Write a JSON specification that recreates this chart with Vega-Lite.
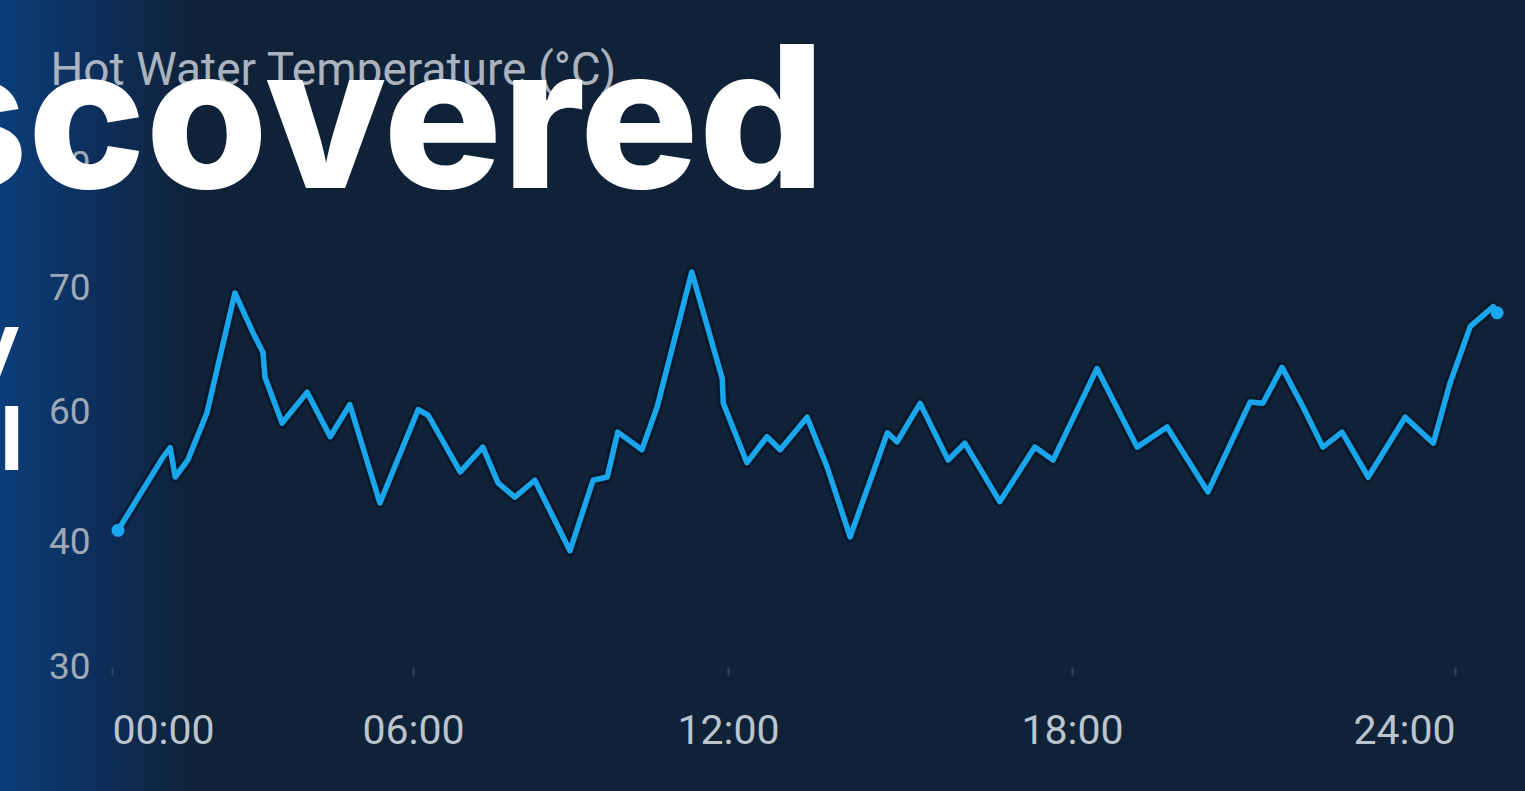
{
  "$schema": "https://vega.github.io/schema/vega-lite/v6.json",
  "autosize": {"type": "none"},
  "padding": {"left": 112, "top": 60, "right": 13, "bottom": 124},
  "width": 1400,
  "height": 607,
  "background": "#0f2238",
  "config": {"view": {"stroke": null}, "font": "Roboto"},
  "title": {
    "text": "scovered",
    "font": "Inter",
    "fontWeight": 800,
    "fontSize": 198,
    "color": "#ffffff",
    "anchor": "start",
    "align": "right",
    "baseline": "alphabetic",
    "frame": "group",
    "offset": -405,
    "dx": 713,
    "zindex": 2
  },
  "layer": [
    {
      "data": {"values": [{"band": "left"}]},
      "mark": {
        "type": "rect",
        "clip": false,
        "color": {
          "gradient": "linear", "x1": 0, "x2": 1, "y1": 0, "y2": 0,
          "stops": [
            {"offset": 0, "color": "#0b3e7a"},
            {"offset": 0.5, "color": "#0d2f5c"},
            {"offset": 1, "color": "#0f2238"}
          ]
        }
      },
      "encoding": {
        "x": {"datum": -2.3, "type": "quantitative", "scale": {"domain": [0, 6, 12, 18, 24], "range": [0, 301, 616, 960, 1343], "nice": false, "zero": false}},
        "x2": {"datum": 1.6},
        "y": {"datum": 95, "type": "quantitative", "scale": {"domain": [30, 40, 60, 70, 80], "range": [607, 482, 352, 228, 105], "nice": false, "zero": false}},
        "y2": {"datum": 19}
      }
    },
    {
      "data": {"name": "series", "values": [
        {"hour": 0.12, "temp": 41.8},
        {"hour": 1.02, "temp": 53.1},
        {"hour": 1.16, "temp": 54.5},
        {"hour": 1.26, "temp": 50.0},
        {"hour": 1.51, "temp": 52.6},
        {"hour": 1.89, "temp": 59.8},
        {"hour": 2.45, "temp": 69.6},
        {"hour": 2.81, "temp": 66.4},
        {"hour": 3.01, "temp": 64.8},
        {"hour": 3.05, "temp": 62.8},
        {"hour": 3.39, "temp": 58.3},
        {"hour": 3.89, "temp": 61.6},
        {"hour": 4.35, "temp": 56.2},
        {"hour": 4.74, "temp": 60.6},
        {"hour": 5.34, "temp": 46.0},
        {"hour": 6.10, "temp": 60.2},
        {"hour": 6.29, "temp": 59.5},
        {"hour": 6.90, "temp": 50.8},
        {"hour": 7.33, "temp": 54.6},
        {"hour": 7.62, "temp": 49.1},
        {"hour": 7.94, "temp": 46.9},
        {"hour": 8.32, "temp": 49.5},
        {"hour": 8.99, "temp": 39.3},
        {"hour": 9.43, "temp": 49.5},
        {"hour": 9.70, "temp": 50.0},
        {"hour": 9.90, "temp": 56.9},
        {"hour": 10.36, "temp": 54.2},
        {"hour": 10.65, "temp": 60.4},
        {"hour": 11.31, "temp": 71.3},
        {"hour": 11.89, "temp": 62.7},
        {"hour": 11.91, "temp": 60.7},
        {"hour": 12.33, "temp": 52.2},
        {"hour": 12.68, "temp": 56.2},
        {"hour": 12.91, "temp": 54.2},
        {"hour": 13.38, "temp": 59.2},
        {"hour": 13.73, "temp": 51.5},
        {"hour": 14.13, "temp": 40.8},
        {"hour": 14.78, "temp": 56.8},
        {"hour": 14.95, "temp": 55.4},
        {"hour": 15.35, "temp": 60.7},
        {"hour": 15.84, "temp": 52.6},
        {"hour": 16.13, "temp": 55.2},
        {"hour": 16.74, "temp": 46.2},
        {"hour": 17.35, "temp": 54.6},
        {"hour": 17.67, "temp": 52.6},
        {"hour": 18.39, "temp": 63.5},
        {"hour": 19.02, "temp": 54.6},
        {"hour": 19.49, "temp": 57.7},
        {"hour": 20.13, "temp": 47.7},
        {"hour": 20.79, "temp": 60.8},
        {"hour": 20.99, "temp": 60.7},
        {"hour": 21.29, "temp": 63.6},
        {"hour": 21.62, "temp": 60.4},
        {"hour": 21.93, "temp": 54.6},
        {"hour": 22.23, "temp": 56.9},
        {"hour": 22.64, "temp": 50.0},
        {"hour": 23.22, "temp": 59.2},
        {"hour": 23.66, "temp": 55.2},
        {"hour": 23.92, "temp": 62.3},
        {"hour": 24.24, "temp": 66.9},
        {"hour": 24.60, "temp": 68.5},
        {"hour": 24.66, "temp": 68.0}
      ]},
      "layer": [
        {
          "mark": {"type": "line", "color": "#050f1a", "strokeWidth": 11, "opacity": 0.5, "strokeJoin": "round", "strokeCap": "round"},
          "encoding": {
            "x": {"field": "hour", "type": "quantitative"},
            "y": {"field": "temp", "type": "quantitative"}
          }
        },
        {
          "mark": {"type": "line", "color": "#1aa6ec", "strokeWidth": 5.5, "strokeJoin": "round", "strokeCap": "round"},
          "encoding": {
            "x": {
              "field": "hour", "type": "quantitative",
              "axis": {
                "values": [0, 6, 12, 18, 24],
                "labelExpr": "(datum.value < 10 ? '0' : '') + datum.value + ':00'",
                "title": null,
                "labelFontSize": 41,
                "labelColor": "#bcc4ce",
                "labelPadding": 36,
                "tickSize": 8,
                "tickColor": "#2b4763",
                "tickWidth": 2,
                "domain": false,
                "gridColor": "#1a3049",
                "gridWidth": 1.5,
                "zindex": 1
              }
            },
            "y": {
              "field": "temp", "type": "quantitative",
              "axis": {
                "values": [30, 40, 60, 70, 80],
                "title": "Hot Water Temperature (°C)",
                "titleAngle": 0,
                "titleAlign": "left",
                "titleBaseline": "alphabetic",
                "titleX": -62,
                "titleY": 24,
                "titleFontSize": 46,
                "titleFontWeight": "normal",
                "titleColor": "#aab3bf",
                "labelFontSize": 37,
                "labelColor": "#9ea9b6",
                "labelPadding": 22,
                "ticks": false,
                "domain": false,
                "gridColor": "#1f3852",
                "gridWidth": 2,
                "zindex": 1
              }
            }
          }
        },
        {
          "transform": [{"filter": "datum.hour > 24.63 || datum.hour < 0.2"}],
          "mark": {"type": "point", "filled": true, "color": "#1aa6ec", "size": 170, "opacity": 1},
          "encoding": {
            "x": {"field": "hour", "type": "quantitative"},
            "y": {"field": "temp", "type": "quantitative"}
          }
        }
      ]
    },
    {
      "data": {"values": [{"label": "y", "hour": -1.83, "temp": 63.0}, {"label": "l", "hour": -1.76, "temp": 51.1}]},
      "mark": {"type": "text", "font": "Inter", "fontWeight": 700, "fontSize": 88, "color": "#ffffff", "align": "right", "baseline": "alphabetic", "clip": false},
      "encoding": {
        "x": {"field": "hour", "type": "quantitative"},
        "y": {"field": "temp", "type": "quantitative"},
        "text": {"field": "label"}
      }
    }
  ]
}
